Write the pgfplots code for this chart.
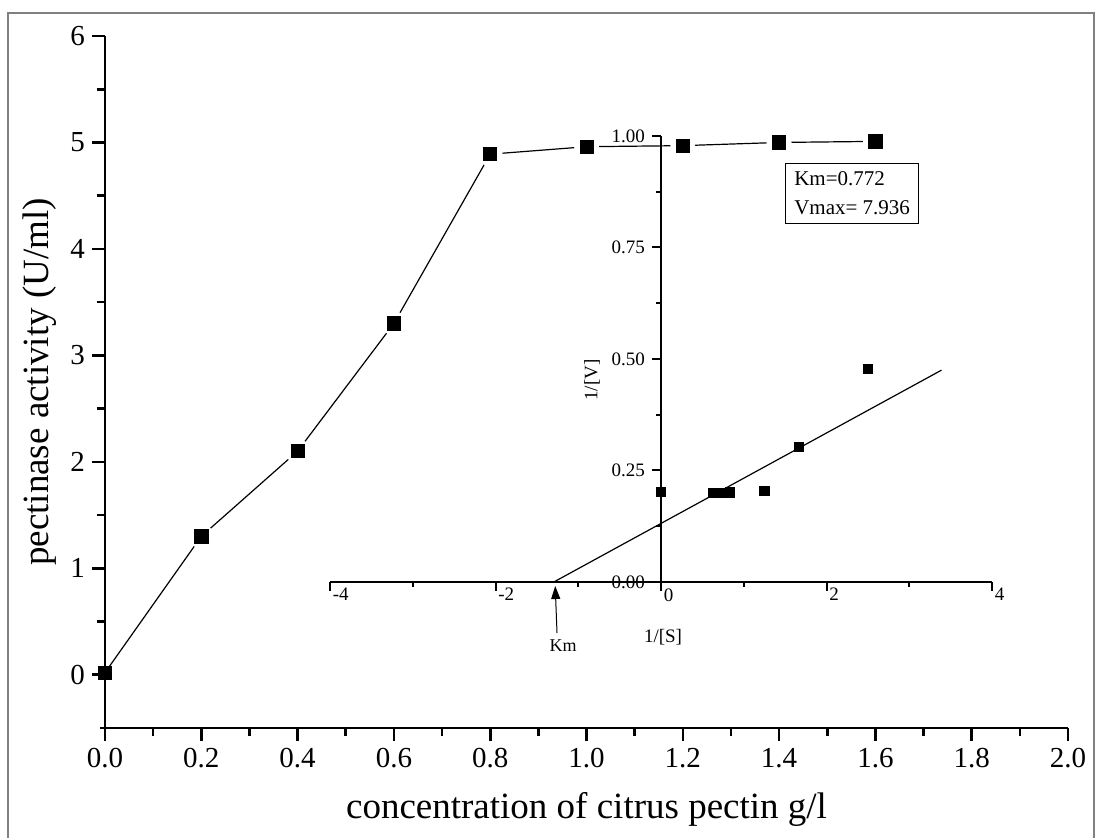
\documentclass[border=0pt]{standalone}
\usepackage{fontspec}
\setmainfont{Liberation Serif}
\usepackage{pgfplots}
\pgfplotsset{compat=1.18}
\usetikzlibrary{arrows.meta}
\begin{document}
\begin{tikzpicture}
\useasboundingbox (0,0) rectangle (548pt,419pt);
% outer frame
\draw[gray, line width=0.6pt] (4pt,0pt) -- (4pt,412.5pt) -- (547pt,412.5pt) -- (547pt,0pt);

% main plot
\begin{axis}[
    at={(52.5pt,55pt)}, anchor=south west,
    width=481.5pt, height=346pt, scale only axis,
    xmin=0, xmax=2, ymin=-0.5, ymax=6,
    axis x line=bottom, axis y line=left,
    axis line style={line width=1.3pt, -},
    x axis line style={shorten <=-2.5pt},
    xtick={0,0.2,0.4,0.6,0.8,1.0,1.2,1.4,1.6,1.8,2.0},
    ytick={0,1,2,3,4,5,6},
    minor x tick num=1, minor y tick num=1,
    tick align=outside,
    tick style={line width=1.3pt, black},
    major tick length=6.5pt, minor tick length=4pt,
    /pgf/number format/assume math mode=true,
    tick label style={font=\fontsize{14.5}{16}\selectfont},
    xticklabel style={/pgf/number format/.cd, fixed, fixed zerofill, precision=1},
    xlabel={concentration of citrus pectin g/l},
    ylabel={pectinase activity (U/ml)},
    xlabel style={font=\fontsize{18.5}{22}\selectfont, at={(axis description cs:0.5,-0.118)}, anchor=center},
    ylabel style={font=\fontsize{18.5}{22}\selectfont, at={(axis description cs:-0.0675,0.5)}, anchor=center},
    clip=false
]
\addplot[black, line width=0.6pt] coordinates {
    (0,0.02) (0.2,1.30) (0.4,2.10) (0.6,3.30) (0.8,4.89) (1.0,4.96) (1.2,4.97) (1.4,5.00) (1.6,5.01)
};
% white gaps round the marks, as Origin draws them
\addplot[white, only marks, mark=*, mark size=6pt] coordinates {
    (0.2,1.30) (0.4,2.10) (0.6,3.30) (0.8,4.89) (1.0,4.96) (1.2,4.97) (1.4,5.00) (1.6,5.01)
};
\addplot[black, only marks, mark=square*, mark size=3.3pt] coordinates {
    (0,0.02) (0.2,1.30) (0.4,2.10) (0.6,3.30) (0.8,4.89) (1.0,4.96) (1.2,4.97) (1.4,5.00) (1.6,5.01)
};
\end{axis}

% Lineweaver-Burk inset
\begin{axis}[
    at={(165pt,128pt)}, anchor=south west,
    width=331pt, height=223pt, scale only axis,
    xmin=-4, xmax=4, ymin=0, ymax=1,
    axis x line=bottom, axis y line=center,
    axis line style={line width=1pt, -},
    hide obscured x ticks=false, hide obscured y ticks=false,
    xtick={-4,-2,0,2,4},
    ytick={0,0.25,0.5,0.75,1},
    minor x tick num=1, minor y tick num=1,
    tick align=outside,
    tick style={line width=1pt, black},
    major tick length=4.5pt, minor tick length=2.5pt,
    /pgf/number format/assume math mode=true,
    tick label style={font=\fontsize{9.5}{11}\selectfont},
    xticklabel style={anchor=north west, inner sep=0pt, xshift=1.2pt, yshift=1.5pt},
    yticklabel style={/pgf/number format/.cd, fixed, fixed zerofill, precision=2},
    clip=false
]
\addplot[black, only marks, mark=square*, mark size=2.4pt] coordinates {
    (0,0.202) (0.625,0.200) (0.714,0.200) (0.833,0.201) (1.25,0.204) (1.667,0.303) (2.5,0.478)
};
\addplot[black, line width=0.6pt] coordinates {(-1.295,0) (3.39,0.475)};
\end{axis}

% inset annotations
\node[font=\fontsize{9.5}{11}\selectfont, rotate=90] at (296pt,229pt) {1/[V]};
\node[font=\fontsize{9.5}{11}\selectfont] at (331.5pt,100.5pt) {1/[S]};
\node[font=\fontsize{9}{11}\selectfont] at (281.5pt,96pt) {Km};
\draw[line width=0.5pt, -{Triangle[length=6.5pt,width=4.5pt]}] (278.5pt,102.5pt) -- (277.6pt,126pt);
\node[draw, line width=0.6pt, anchor=north west, minimum width=66.5pt, minimum height=30pt,
      align=left, inner xsep=3.5pt, font=\fontsize{10.5}{14.5}\selectfont]
      at (392.5pt,337.5pt) {Km=0.772\\Vmax= 7.936};
\end{tikzpicture}
\end{document}
